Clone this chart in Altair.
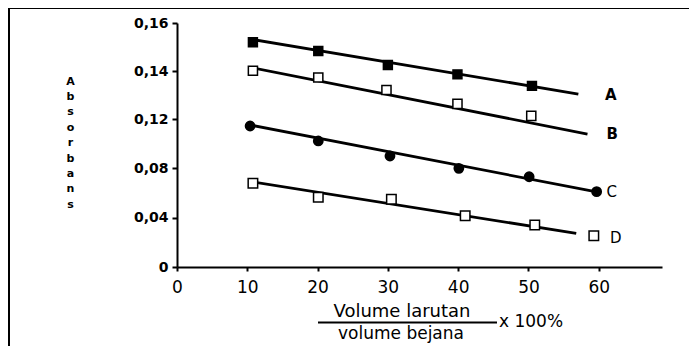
import altair as alt
import pandas as pd

# ---- data ----
series = ["A", "B", "C", "D"]
a_x = [10.8, 20.1, 30.0, 39.9, 50.5]
a_y = [0.152, 0.1483, 0.1425, 0.1386, 0.1338]
b_x = [10.8, 20.1, 29.8, 39.9, 50.4]
b_y = [0.1401, 0.1373, 0.1321, 0.1263, 0.1213]
c_x = [10.4, 20.1, 30.3, 40.1, 50.1, 59.7]
c_y = [0.1143, 0.1022, 0.0900, 0.0800, 0.0732, 0.0611]
d_x = [10.8, 20.1, 30.5, 41.0, 50.9, 59.3]
d_y = [0.0679, 0.0565, 0.0549, 0.0416, 0.0341, 0.0254]

# fitted straight lines (start / end points)
line_x0 = [10.8, 10.8, 10.4, 10.8]
line_y0 = [0.1531, 0.1413, 0.1151, 0.0689]
line_x1 = [57.1, 58.4, 59.5, 56.8]
line_y1 = [0.1304, 0.1078, 0.0611, 0.0273]

# series labels
label_x = [60.9, 61.1, 61.1, 61.6]
label_y = [0.1300, 0.1078, 0.0611, 0.0235]

x_ticks = [0, 10, 20, 30, 40, 50, 60]
y_ticks = [0, 0.02, 0.04, 0.06, 0.08, 0.10, 0.12, 0.13, 0.14, 0.15, 0.16]
y_labels = [0.04, 0.08, 0.12, 0.14, 0.16]
y_title = list("Absorbans")

# ---- tables ----
pts = pd.DataFrame({
    "series": ["A"] * len(a_x) + ["B"] * len(b_x) + ["C"] * len(c_x) + ["D"] * len(d_x),
    "x": a_x + b_x + c_x + d_x,
    "y": a_y + b_y + c_y + d_y,
})
lines = pd.DataFrame({
    "series": series + series,
    "x": line_x0 + line_x1,
    "y": line_y0 + line_y1,
    "o": [0] * 4 + [1] * 4,
})
labels = pd.DataFrame({"series": series, "x": label_x, "y": label_y})

FONT = "DejaVu Sans"

xscale = alt.Scale(domain=[0, 69], nice=False, zero=False)
yscale = alt.Scale(domain=[0, 0.12, 0.16], range=[244, 96, 0], nice=False, zero=False)

cond = " || ".join(f"abs(datum.value - {v}) < 1e-6" for v in y_labels)
label_expr = (
    "datum.value == 0 ? '0\u00a0\u00a0' : "
    f"(({cond}) ? replace(format(datum.value, '.2f'), '.', ',') : '')"
)

xaxis = alt.Axis(
    values=x_ticks, title=None, grid=False, labelFont=FONT, labelFontSize=17,
    labelColor="black", labelPadding=8, labelFlush=False, labelOverlap=False,
    tickSize=4, tickWidth=2, tickColor="black", domainColor="black", domainWidth=2,
)
yaxis = alt.Axis(
    values=y_ticks, labelExpr=label_expr, grid=False, labelFont=FONT, labelFontSize=14,
    labelFontWeight="bold", labelColor="black", labelPadding=4, labelOverlap=False,
    labelFlush=False, tickSize=5, tickWidth=2, tickColor="black",
    domainColor="black", domainWidth=2,
    title=y_title, titleAngle=0, titleFont=FONT, titleFontSize=11, titleFontWeight="bold",
    titleColor="black", titleLineHeight=15.4, titleX=-107, titleY=52,
    titleAlign="center", titleBaseline="top",
)

line_layer = alt.Chart(lines).mark_line(color="black", strokeWidth=2.8).encode(
    x=alt.X("x:Q", scale=xscale, axis=xaxis),
    y=alt.Y("y:Q", scale=yscale, axis=yaxis),
    detail="series:N",
    order="o:Q",
)

point_layer = alt.Chart(pts).mark_point(filled=False, stroke="black", strokeWidth=1.5, opacity=1).encode(
    x=alt.X("x:Q", scale=xscale),
    y=alt.Y("y:Q", scale=yscale),
    shape=alt.Shape("series:N", scale=alt.Scale(domain=series, range=["square", "square", "circle", "square"]), legend=None),
    fill=alt.Fill("series:N", scale=alt.Scale(domain=series, range=["black", "white", "black", "white"]), legend=None),
    size=alt.Size("series:N", scale=alt.Scale(domain=series, range=[80, 90, 95, 85]), legend=None),
)

lab_ab = alt.Chart(labels[labels.series.isin(["A", "B"])]).mark_text(
    font=FONT, fontSize=15, fontWeight="bold", align="left", baseline="middle", color="black"
).encode(x=alt.X("x:Q", scale=xscale), y=alt.Y("y:Q", scale=yscale), text="series:N")
lab_cd = alt.Chart(labels[labels.series.isin(["C", "D"])]).mark_text(
    font=FONT, fontSize=15, align="left", baseline="middle", color="black"
).encode(x=alt.X("x:Q", scale=xscale), y=alt.Y("y:Q", scale=yscale), text="series:N")

one = pd.DataFrame({"k": [0]})
frame_left = alt.Chart(one).mark_rule(color="black", strokeWidth=2).encode(
    x=alt.value(-168), y=alt.value(-15), y2=alt.value(330))
frame_top = alt.Chart(one).mark_rule(color="black", strokeWidth=2).encode(
    y=alt.value(-15), x=alt.value(-169), x2=alt.value(520))

num = alt.Chart(one).mark_text(text="Volume larutan", font=FONT, fontSize=18, align="center",
                               baseline="alphabetic", color="black").encode(
    x=alt.value(225), y=alt.value(294))
den = alt.Chart(one).mark_text(text="volume bejana", font=FONT, fontSize=17, align="center",
                               baseline="alphabetic", color="black").encode(
    x=alt.value(224), y=alt.value(316))
bar = alt.Chart(one).mark_rule(color="black", strokeWidth=2).encode(
    x=alt.value(141), x2=alt.value(320), y=alt.value(299.5))
times = alt.Chart(one).mark_text(text="x 100%", font=FONT, fontSize=17, align="left",
                                 baseline="alphabetic", color="black").encode(
    x=alt.value(322), y=alt.value(304))

chart = alt.layer(
    frame_left, frame_top, line_layer, point_layer, lab_ab, lab_cd, num, den, bar, times
).properties(
    width=485, height=244,
    padding={"left": 169, "top": 15, "right": 27, "bottom": 79},
    autosize=alt.AutoSizeParams(type="none"),
    background="white",
).configure_view(stroke=None)

chart.save("out.html", embed_options={"renderer": "svg", "actions": False})
